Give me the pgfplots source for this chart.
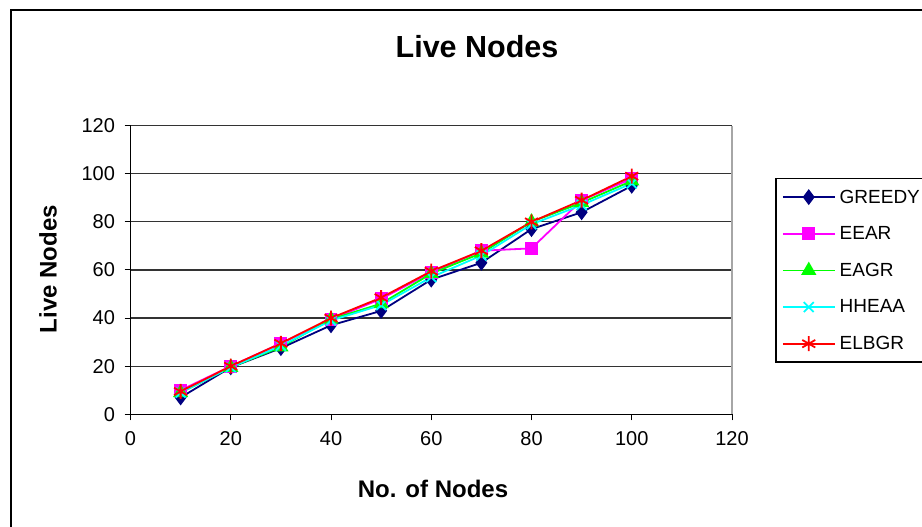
\documentclass[border=0pt]{standalone}
\usepackage{fontspec}
\setmainfont{Liberation Sans}
\usepackage{pgfplots}
\pgfplotsset{compat=1.18}

\definecolor{greedy}{RGB}{0,0,128}
\definecolor{eear}{RGB}{255,0,255}
\definecolor{eagr}{RGB}{0,255,0}
\definecolor{hheaa}{RGB}{0,255,255}
\definecolor{elbgr}{RGB}{255,0,0}

\begin{document}
\begin{tikzpicture}[x=1bp,y=1bp]
\useasboundingbox (0,0) rectangle (922,527);
\clip (0,0) rectangle (922,527);
% chart frame
\draw[line width=2.5bp] (11,-20) rectangle (960,517);
% titles
\node[font=\fontsize{30.5bp}{34bp}\selectfont\bfseries] at (477,480) {Live Nodes};
\node[font=\fontsize{24bp}{28bp}\selectfont\bfseries] at (433,38) {No. of Nodes};
\node[font=\fontsize{24bp}{28bp}\selectfont\bfseries, rotate=90] at (48,258) {Live Nodes};

\begin{axis}[
  at={(130.5bp,112.7bp)}, anchor=south west,
  scale only axis, width=601.5bp, height=288.6bp,
  xmin=0, xmax=120, ymin=0, ymax=120,
  xtick={0,20,...,120}, ytick={0,20,...,120},
  axis x line*=bottom, axis y line*=left,
  axis line style={black, line width=1.2bp},
  tick align=outside, major tick length=6bp,
  tick style={black, line width=1bp},
  ymajorgrids, grid style={black!80, line width=1.2bp},
  /pgf/number format/assume math mode=true,
  ticklabel style={font=\fontsize{20bp}{24bp}\selectfont},
  xticklabel style={yshift=-8bp},
  yticklabel style={xshift=-6bp},
  clip=false,
  legend style={at={(axis cs:128.6,98.25)}, anchor=north west,
    draw=black, line width=1.5bp, fill=white,
    font=\fontsize{19bp}{22bp}\selectfont,
    row sep=18bp, inner xsep=6bp, inner ysep=9bp,
    nodes={inner xsep=4bp}},
  legend cell align=left,
  legend image code/.code={%
    \draw[line width=1.8bp, mark repeat=2, mark phase=2]
      plot coordinates {(0bp,0bp) (26bp,0bp) (52bp,0bp)};},
  every axis plot/.append style={line width=1.8bp},
]
\draw[gray!70, line width=1.5bp] (rel axis cs:1,0) -- (rel axis cs:1,1);

\addplot[color=greedy, mark=diamond*, mark size=6.5bp, mark options={solid}]
  coordinates {(10,7) (20,19.5) (30,27.5) (40,37) (50,43) (60,56) (70,63) (80,77) (90,84) (100,95)};
\addlegendentry{GREEDY}
\addplot[color=eear, mark=square*, mark size=5.5bp]
  coordinates {(10,10) (20,20) (30,29.5) (40,39.5) (50,48) (60,59) (70,68) (80,69) (90,89) (100,98)};
\addlegendentry{EEAR}
\addplot[color=eagr, mark=triangle*, mark size=7bp]
  coordinates {(10,9) (20,19.5) (30,28) (40,39.5) (50,46) (60,58.5) (70,67) (80,80) (90,88) (100,97)};
\addlegendentry{EAGR}
\addplot[color=hheaa, mark=x, mark size=7bp]
  coordinates {(10,9) (20,19.5) (30,28.5) (40,39) (50,45.4) (60,57) (70,66) (80,79) (90,87) (100,96)};
\addlegendentry{HHEAA}
\addplot[color=elbgr, mark=asterisk, mark size=7.5bp]
  coordinates {(10,9.5) (20,20) (30,29.5) (40,40) (50,48.5) (60,59.5) (70,68) (80,80) (90,89) (100,99)};
\addlegendentry{ELBGR}
\end{axis}
\end{tikzpicture}
\end{document}
